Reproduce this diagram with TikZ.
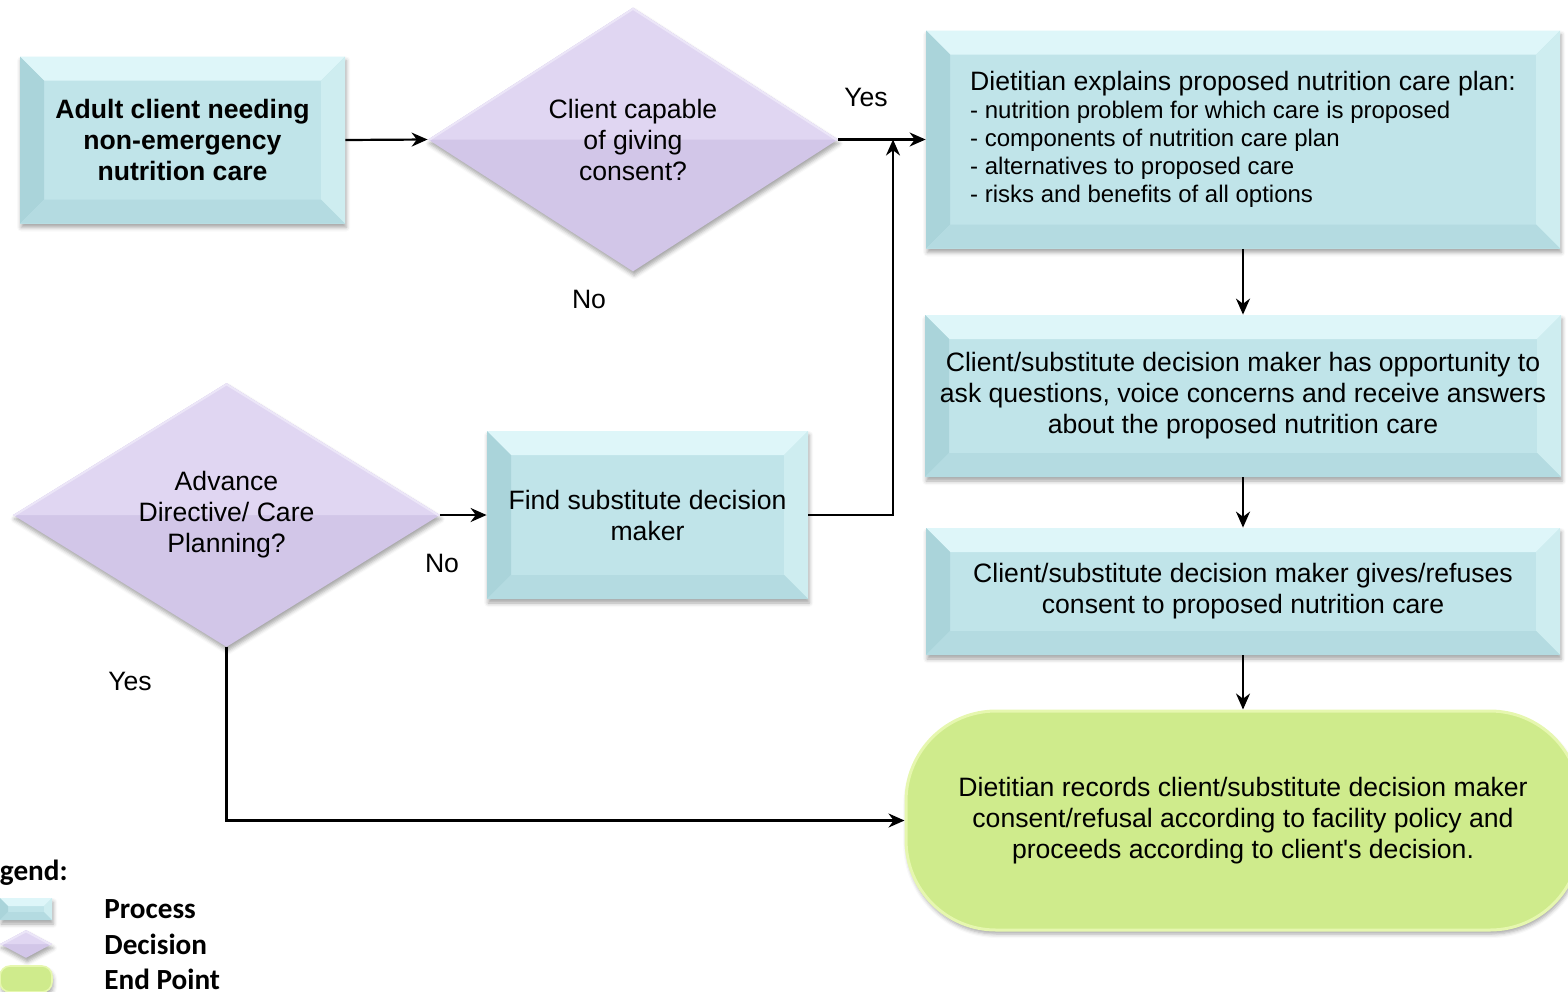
\documentclass[tikz,border=0pt]{standalone}
\usepackage{fontspec}
\newfontfamily\arialfont{Liberation Sans}
\newfontfamily\legfont{Carlito}
\usetikzlibrary{shapes.geometric,arrows.meta,shadows.blur}

\definecolor{procmain}{RGB}{192,228,233}
\definecolor{proctop}{RGB}{222,246,249}
\definecolor{procleft}{RGB}{170,212,218}
\definecolor{procright}{RGB}{206,237,240}
\definecolor{procbot}{RGB}{180,219,225}
\definecolor{decmain}{RGB}{210,198,232}
\definecolor{dectop}{RGB}{224,214,242}
\definecolor{decedge}{RGB}{236,230,248}
\definecolor{endmain}{RGB}{207,235,140}
\definecolor{endtop}{RGB}{230,247,175}

\tikzset{
  bvsize/.store in=\bvsz, bvsize=12pt,
  shadowed/.style={blur shadow={shadow xshift=0.6pt, shadow yshift=-2pt, shadow blur radius=2pt, shadow opacity=35}},
  txt/.style={font=\arialfont\fontsize{13.3}{15.5}\selectfont},
  procbox/.style={rectangle, draw=none, fill=procmain, shadowed, inner sep=0pt, align=center, txt,
    path picture={
      \fill[proctop] (path picture bounding box.north west) -- (path picture bounding box.north east)
        -- ([xshift=-\bvsz,yshift=-\bvsz]path picture bounding box.north east)
        -- ([xshift=\bvsz,yshift=-\bvsz]path picture bounding box.north west) -- cycle;
      \fill[procleft] (path picture bounding box.north west) -- ([xshift=\bvsz,yshift=-\bvsz]path picture bounding box.north west)
        -- ([xshift=\bvsz,yshift=\bvsz]path picture bounding box.south west) -- (path picture bounding box.south west) -- cycle;
      \fill[procright] (path picture bounding box.north east) -- ([xshift=-\bvsz,yshift=-\bvsz]path picture bounding box.north east)
        -- ([xshift=-\bvsz,yshift=\bvsz]path picture bounding box.south east) -- (path picture bounding box.south east) -- cycle;
      \fill[procbot] (path picture bounding box.south west) -- ([xshift=\bvsz,yshift=\bvsz]path picture bounding box.south west)
        -- ([xshift=-\bvsz,yshift=\bvsz]path picture bounding box.south east) -- (path picture bounding box.south east) -- cycle;
    }},
  decbox/.style={diamond, aspect=1.6, draw=none, fill=decmain, shadowed, inner sep=0pt, align=center, txt,
    path picture={
      \fill[dectop] (path picture bounding box.west) -- (path picture bounding box.north) -- (path picture bounding box.east) -- cycle;
      \draw[decedge, line width=2pt] (path picture bounding box.west) -- (path picture bounding box.north) -- (path picture bounding box.east);
    }},
  endbox/.style={rectangle, rounded corners=45pt, draw=endtop, line width=1.5pt, fill=endmain, shadowed, inner sep=0pt, align=center, txt},
  arr/.style={-{Stealth[length=8pt,width=7pt]}, line width=1.1pt},
  lbl/.style={txt, inner sep=0pt},
  legtxt/.style={font=\legfont\bfseries\fontsize{14.6}{17}\selectfont, inner sep=0pt}
}

\begin{document}
\begin{tikzpicture}[x=0.5pt,y=-0.5pt]
\useasboundingbox (0,0) rectangle (1568,991);

% nodes
\node[procbox, minimum width=162.5pt, minimum height=83.5pt, font=\arialfont\bfseries\fontsize{13.3}{15.5}\selectfont] (A) at (182.5,140)
  {Adult client needing\\non-emergency\\nutrition care};
\node[decbox, minimum width=205pt, minimum height=132pt] (D1) at (633,139.5)
  {Client capable\\of giving\\consent?};
\node[procbox, minimum width=317pt, minimum height=109pt, align=left] (E1) at (1243,139.5)
  {Dietitian explains proposed nutrition care plan:\\[-1.5pt]
   {\fontsize{12}{14}\selectfont - nutrition problem for which care is proposed}\\[-1.5pt]
   {\fontsize{12}{14}\selectfont - components of nutrition care plan}\\[-1.5pt]
   {\fontsize{12}{14}\selectfont - alternatives to proposed care}\\[-1.5pt]
   {\fontsize{12}{14}\selectfont - risks and benefits of all options}};
\node[procbox, minimum width=318pt, minimum height=81pt] (E2) at (1243,396)
  {Client/substitute decision maker has opportunity to\\ask questions, voice concerns and receive answers\\about the proposed nutrition care};
\node[procbox, minimum width=317pt, minimum height=63.5pt] (E3) at (1243,591.5)
  {Client/substitute decision maker gives/refuses\\consent to proposed nutrition care};
\node[endbox, minimum width=337pt, minimum height=109.5pt] (End) at (1243,820.5)
  {Dietitian records client/substitute decision maker\\consent/refusal according to facility policy and\\proceeds according to client's decision.};
\node[decbox, minimum width=213.5pt, minimum height=132pt] (D2) at (226.5,515)
  {Advance\\Directive/ Care\\Planning?};
\node[procbox, minimum width=160.5pt, minimum height=84pt] (F) at (647.5,515)
  {Find substitute decision\\maker};

% labels
\node[lbl] (yes1) at (866,97) {Yes};
\node[lbl] (no1) at (589,299) {No};
\node[lbl] (no2) at (442,563) {No};
\node[lbl] (yes2) at (130,681) {Yes};

% connectors
\coordinate (J) at (893,139.5);
\draw[arr] (A.east) -- (D1.west);
\draw[arr] (D1.east) -- (E1.west);
\draw[arr] (F.east) -| (J);
\draw[arr] (D2.east) -- (F.west);
\draw[arr] (E1.south) -- (E2.north);
\draw[arr] (E2.south) -- (E3.north);
\draw[arr] (E3.south) -- (End.north);
\draw[arr] (D2.south) |- (End.west);

% legend
\node[legtxt, anchor=east] (leg) at (68,873) {Legend:};
\node[procbox, bvsize=4pt, minimum width=26pt, minimum height=11pt] (LP) at (26,909) {};
\node[decbox, minimum width=26pt, minimum height=14pt] (LD) at (26,944) {};
\node[endbox, rounded corners=5pt, line width=0.8pt, minimum width=26pt, minimum height=13pt] (LE) at (26,979) {};
\node[legtxt, anchor=west] (lp) at (104,909) {Process};
\node[legtxt, anchor=west] (ld) at (104,944) {Decision};
\node[legtxt, anchor=west] (le) at (104,979) {End Point};
\end{tikzpicture}
\end{document}
